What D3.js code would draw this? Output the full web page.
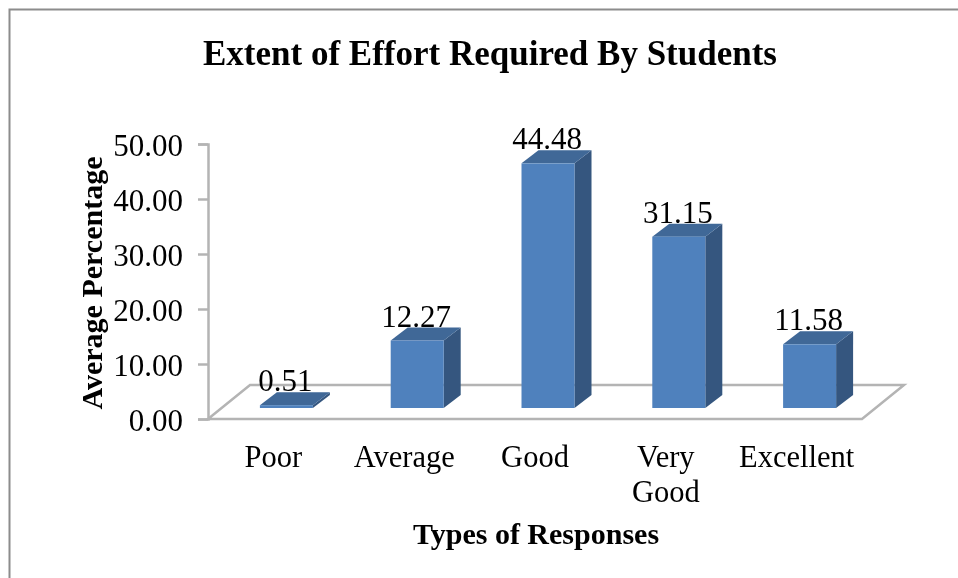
<!DOCTYPE html>
<html>
<head>
<meta charset="utf-8">
<script src="https://cdnjs.cloudflare.com/ajax/libs/d3/7.8.5/d3.min.js"></script>
<style>
  html, body { margin: 0; padding: 0; background: #fff; }
  text { font-family: "Liberation Serif", serif; fill: #000; }
</style>
</head>
<body>
<script>
const categories = ["Poor", "Average", "Good", "Very Good", "Excellent"];
const values = [0.51, 12.27, 44.48, 31.15, 11.58];
const yTicks = [0, 10, 20, 30, 40, 50];

const width = 958;
const height = 578;

const svg = d3.select("body")
  .append("svg")
  .attr("width", width)
  .attr("height", height)
  .style("display", "block");

const defs = svg.append("defs");
defs.append("filter").attr("id", "soft")
  .append("feGaussianBlur").attr("stdDeviation", 0.5);
defs.append("filter").attr("id", "softText")
  .attr("x", "-5%").attr("y", "-20%").attr("width", "110%").attr("height", "140%")
  .append("feGaussianBlur").attr("stdDeviation", 0.35);

// outer frame, only top and left are visible in the crop
svg.append("path")
  .attr("d", "M9.5,578V9.5H958")
  .attr("fill", "none")
  .attr("stroke", "#8c8c8c")
  .attr("stroke-width", 2);

const x = d3.scaleBand()
  .domain(categories)
  .range([208, 862]);

const y = d3.scaleLinear()
  .domain([0, 50])
  .range([419, 144]);

const barW = 53;
const floorDx = 42, floorDy = -34;
const depthDx = 17, depthDy = -13;
const barShiftX = 13, barShiftY = -11;

const grey = "#b4b4b4";

// floor of the 3d box
const floorLeft = x.range()[0], floorRight = x.range()[1], floorY = y(0);
svg.append("path")
  .attr("d", `M${floorLeft},${floorY}L${floorLeft + floorDx},${floorY + floorDy}H${floorRight + floorDx}L${floorRight},${floorY}Z`)
  .attr("fill", "none")
  .attr("stroke", grey)
  .attr("stroke-width", 2.5)
  .attr("filter", "url(#soft)");

const yAxis = d3.axisLeft(y)
  .tickValues(yTicks)
  .tickFormat(d3.format(".2f"))
  .tickSize(10)
  .tickPadding(15);

const yG = svg.append("g")
  .attr("transform", `translate(${floorLeft},0)`)
  .call(yAxis);
yG.selectAll("line, path").attr("stroke", grey).attr("stroke-width", 2.5);
yG.selectAll("text")
  .style("font-family", '"Liberation Serif", serif')
  .style("font-size", "31px")
  .attr("dy", "0.38em")
  .attr("fill", "#000")
  .attr("filter", "url(#softText)");

const bars = svg.append("g")
  .attr("filter", "url(#soft)")
  .selectAll("g")
  .data(categories)
  .join("g")
  .attr("transform", d => `translate(${x(d) + x.bandwidth() / 2 + barShiftX - barW / 2},${barShiftY})`);

const valueOf = d => values[categories.indexOf(d)];

bars.append("path")
  .attr("fill", "#34567f")
  .attr("d", d => `M${barW},${y(valueOf(d))}l${depthDx},${depthDy}V${y(0) + depthDy}l${-depthDx},${-depthDy}Z`);

bars.append("path")
  .attr("fill", "#3f6797")
  .attr("d", d => `M0,${y(valueOf(d))}l${depthDx},${depthDy}h${barW}l${-depthDx},${-depthDy}Z`);

bars.append("rect")
  .attr("x", 0)
  .attr("width", barW)
  .attr("y", d => y(valueOf(d)))
  .attr("height", d => y(0) - y(valueOf(d)))
  .attr("fill", "#4f81bd");

const labels = svg.append("g").attr("filter", "url(#softText)");

// value labels
labels.append("g")
  .selectAll("text")
  .data(categories)
  .join("text")
  .attr("x", d => x(d) + x.bandwidth() / 2 + barShiftX - 1)
  .attr("y", d => y(valueOf(d)) + barShiftY + depthDy - 1)
  .attr("text-anchor", "middle")
  .style("font-size", "31px")
  .text(d => valueOf(d).toFixed(2));

// category labels, "Very Good" wraps on two lines
const catLabels = labels.append("g")
  .selectAll("text")
  .data(categories)
  .join("text")
  .attr("text-anchor", "middle")
  .style("font-size", "30.5px");

catLabels.selectAll("tspan")
  .data(d => (d === "Very Good" ? d.split(" ") : [d]).map(s => ({s, c: d})))
  .join("tspan")
  .attr("x", d => x(d.c) + x.bandwidth() / 2)
  .attr("y", (d, i) => 467 + i * 35)
  .text(d => d.s);

labels.append("text")
  .attr("x", 490)
  .attr("y", 65)
  .attr("text-anchor", "middle")
  .style("font-size", "35px")
  .style("font-weight", "bold")
  .text("Extent of Effort Required By Students");

labels.append("text")
  .attr("x", 536)
  .attr("y", 544)
  .attr("text-anchor", "middle")
  .style("font-size", "30px")
  .style("font-weight", "bold")
  .text("Types of Responses");

labels.append("text")
  .attr("transform", "translate(102,283) rotate(-90)")
  .attr("text-anchor", "middle")
  .style("font-size", "30px")
  .style("font-weight", "bold")
  .text("Average Percentage");
</script>
</body>
</html>
